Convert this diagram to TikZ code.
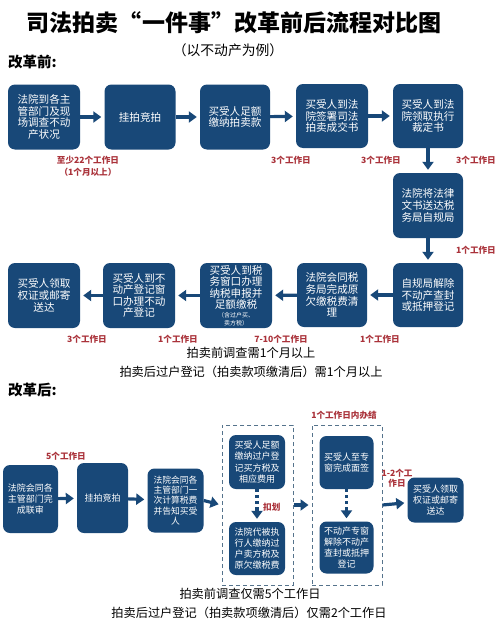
\documentclass[tikz,border=0pt]{standalone}
\usepackage{fontspec}
\setmainfont{Noto Sans CJK SC}
\usetikzlibrary{arrows.meta}
\definecolor{boxblue}{RGB}{24,72,120}
\definecolor{lblred}{RGB}{170,50,58}
\definecolor{dashc}{RGB}{85,115,140}
\newcommand{\tinyln}[1]{{\fontsize{6}{7}\selectfont #1}}
\tikzset{
  fbox/.style={fill=boxblue, rounded corners=7pt, text=white, align=center,
    inner sep=0pt, font=\fontsize{10.6}{11.6}\selectfont},
  sbox/.style={fbox, font=\fontsize{9}{11.2}\selectfont},
  arr/.style={draw=boxblue, line width=3.2pt, -{Triangle[length=8pt,width=11pt]}, shorten >=3pt},
  dotseg/.style={draw=boxblue, line width=3.2pt, dash pattern=on 3pt off 3pt},
  lbl/.style={text=lblred, font=\fontsize{8.6}{10.5}\selectfont\bfseries, inner sep=0pt, align=center},
  note/.style={font=\fontsize{12.2}{14}\selectfont, inner sep=0pt},
  dbox/.style={draw=dashc, dash pattern=on 4pt off 3pt, line width=1pt, inner sep=0pt},
}
\begin{document}
\begin{tikzpicture}[x=1pt,y=-1pt]
\useasboundingbox[fill=white] (0,0) rectangle (500,629);
% titles
\node[font=\fontsize{23}{26}\selectfont\bfseries, inner sep=0pt] (title) at (234,23) {司法拍卖“一件事”改革前后流程对比图};
\node[font=\fontsize{13.8}{15}\selectfont, inner sep=0pt] (sub) at (228,50) {（以不动产为例）};
\node[font=\fontsize{14.5}{16}\selectfont\bfseries, inner sep=0pt, anchor=west] (before) at (8,62) {改革前:};
% before: row 1
\node[fbox, minimum width=72pt, minimum height=65pt] (b1) at (44,117) {法院到各主\\管部门及现\\场调查不动\\产状况};
\node[fbox, minimum width=71pt, minimum height=65pt] (b2) at (140,117) {挂拍竞拍};
\node[fbox, minimum width=70pt, minimum height=65pt] (b3) at (235,117) {买受人足额\\缴纳拍卖款};
\node[fbox, minimum width=72pt, minimum height=64pt] (b4) at (332,116) {买受人到法\\院签署司法\\拍卖成交书};
\node[fbox, minimum width=70pt, minimum height=64pt] (b5) at (428,116) {买受人到法\\院领取执行\\裁定书};
\node[fbox, minimum width=70pt, minimum height=65pt] (b6) at (428,205.5) {法院将法律\\文书送达税\\务局自规局};
\node[fbox, minimum width=70pt, minimum height=64pt] (b7) at (428,295) {自规局解除\\不动产查封\\或抵押登记};
\node[fbox, minimum width=70pt, minimum height=64pt] (b8) at (332,295) {法院会同税\\务局完成原\\欠缴税费清\\理};
\node[fbox, minimum width=72pt, minimum height=65pt] (b9) at (236,295.5) {买受人到税\\务窗口办理\\纳税申报并\\足额缴税\\[-3pt]\tinyln{（含过户买、}\\[-4pt]\tinyln{卖方税）}};
\node[fbox, minimum width=72pt, minimum height=65pt] (b10) at (139,295.5) {买受人到不\\动产登记窗\\口办理不动\\产登记};
\node[fbox, minimum width=72pt, minimum height=65pt] (b11) at (44,295.5) {买受人领取\\权证或邮寄\\送达};
\draw[arr] (b1) -- (b2);
\draw[arr] (b2) -- (b3);
\draw[arr] (b3) -- (b4);
\draw[arr] (b4) -- (b5);
\draw[arr] (b5) -- (b6);
\draw[arr] (b6) -- (b7);
\draw[arr] (b7) -- (b8);
\draw[arr] (b8) -- (b9);
\draw[arr] (b9) -- (b10);
\draw[arr] (b10) -- (b11);
\node[lbl] (l1) at (88,160) {至少22个工作日};
\node[lbl] (l1b) at (88,172) {（1个月以上）};
\node[lbl] (l2) at (291,160) {3个工作日};
\node[lbl] (l3) at (381,160) {3个工作日};
\node[lbl] (l4) at (476,160) {3个工作日};
\node[lbl] (l5) at (476,250) {1个工作日};
\node[lbl] (l6) at (380,339) {1个工作日};
\node[lbl] (l7) at (281,339) {7-10个工作日};
\node[lbl] (l8) at (178,339) {1个工作日};
\node[lbl] (l9) at (87,339) {3个工作日};
\node[note] (n1) at (251,353) {拍卖前调查需1个月以上};
\node[note] (n2) at (251,372) {拍卖后过户登记（拍卖款项缴清后）需1个月以上};
% after
\node[font=\fontsize{14.5}{16}\selectfont\bfseries, inner sep=0pt, anchor=west] (after) at (8,390) {改革后:};
\node[sbox, minimum width=55pt, minimum height=68pt] (a1) at (30.5,499) {法院会同各\\主管部门完\\成联审};
\node[sbox, minimum width=51pt, minimum height=70pt] (a2) at (102.5,498) {挂拍竞拍};
\node[sbox, minimum width=56pt, minimum height=64pt, font=\fontsize{8.8}{10.2}\selectfont] (a3) at (175.5,500.5) {法院会同各\\主管部门一\\次计算税费\\并告知买受\\人};
\node[dbox, minimum width=71pt, minimum height=160pt] (d1) at (257.5,505) {};
\node[dbox, minimum width=70pt, minimum height=160pt] (d2) at (347,505) {};
\node[sbox, minimum width=56pt, minimum height=54pt] (a4) at (257,462) {买受人足额\\缴纳过户登\\记买方税及\\相应费用};
\node[sbox, minimum width=56pt, minimum height=53pt] (a5) at (257,548.5) {法院代被执\\行人缴纳过\\户卖方税及\\原欠缴税费};
\node[sbox, minimum width=54pt, minimum height=53pt] (a6) at (346.5,462.5) {买受人至专\\窗完成面签};
\node[sbox, minimum width=54pt, minimum height=52pt] (a7) at (346.5,547.5) {不动产专窗\\解除不动产\\查封或抵押\\登记};
\node[sbox, minimum width=56pt, minimum height=45pt] (a8) at (435.5,500) {买受人领取\\权证或邮寄\\送达};
\draw[arr] (a1) -- (a2);
\draw[arr] (a2) -- (a3);
\draw[arr] (a3.east) -- (d1.west);
\draw[arr] (d1.east) -- (d2.west);
\draw[arr] (d2.east) -- (a8);
\coordinate (m1) at (257,507);
\coordinate (m2) at (346.5,507);
\draw[dotseg] (a4.south) -- (m1);
\draw[arr] (m1) -- (a5.north);
\draw[dotseg] (a6.south) -- (m2);
\draw[arr] (m2) -- (a7.north);
\node[lbl] (k1) at (66,456) {5个工作日};
\node[lbl, anchor=west] (k2) at (263,507) {扣划};
\node[lbl] (k3) at (344,415) {1个工作日内办结};
\node[lbl] (k4) at (397,478) {1-2个工\\作日};
\node[note] (n3) at (250,594) {拍卖前调查仅需5个工作日};
\node[note] (n4) at (249,613) {拍卖后过户登记（拍卖款项缴清后）仅需2个工作日};
\end{tikzpicture}
\end{document}
